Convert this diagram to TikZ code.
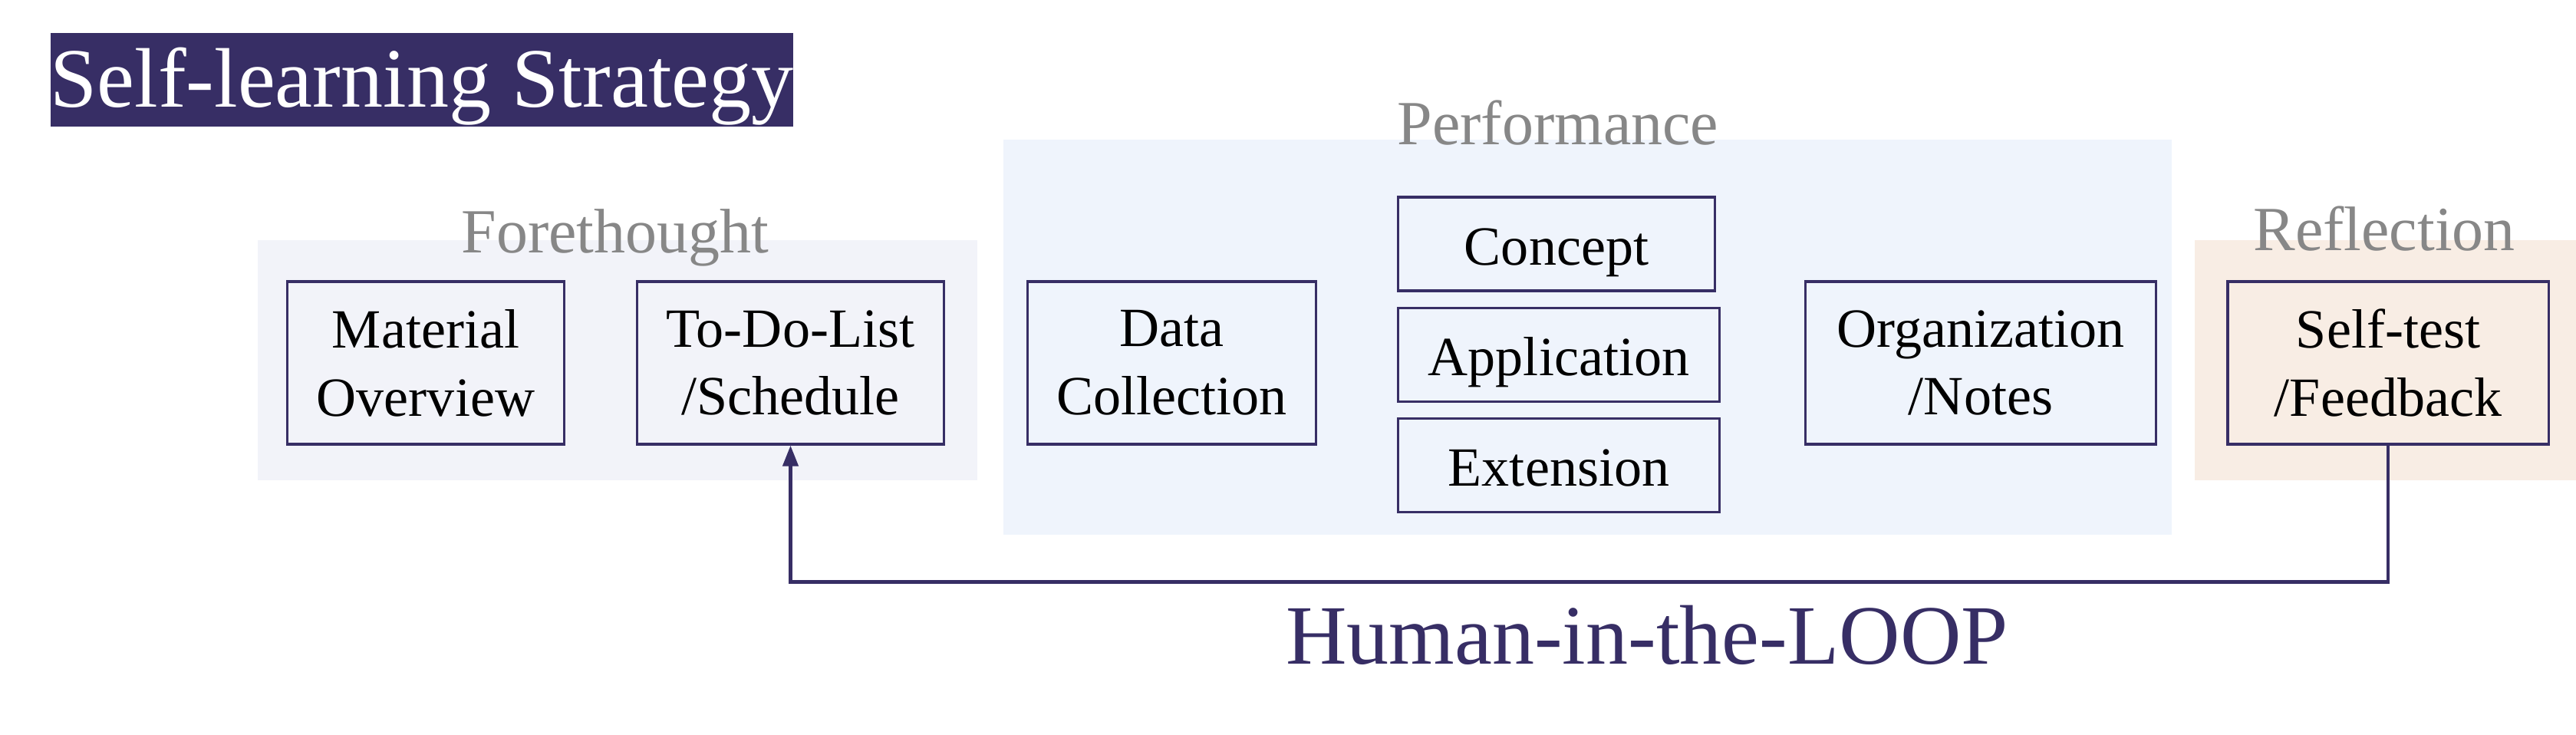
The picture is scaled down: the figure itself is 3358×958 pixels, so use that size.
\documentclass[tikz,border=0pt]{standalone}
\usepackage{fontspec}
\setmainfont{Liberation Serif}
\usetikzlibrary{arrows.meta}
\definecolor{loopviolet}{HTML}{372E65}
\definecolor{forebg}{HTML}{F2F3F9}
\definecolor{perfbg}{HTML}{EFF4FC}
\definecolor{reflbg}{HTML}{F8EDE4}
\definecolor{phasegray}{HTML}{878787}
\begin{document}
\begin{tikzpicture}[x=0.01cm,y=-0.01cm,
  stagebox/.style={draw=loopviolet,line width=0.9pt,align=center,inner sep=0pt,
    font=\fontsize{20.5}{25.3}\selectfont,minimum height=2.12cm},
  subbox/.style={stagebox,minimum height=1.22cm,text height=15.4pt,text depth=0pt},
  phase/.style={text=phasegray,anchor=base,inner sep=0pt,font=\fontsize{23.3}{28}\selectfont}]
\useasboundingbox(0,0)rectangle(3358,958);
% phase backgrounds
\fill[forebg](336,313)rectangle(1274,626);
\fill[perfbg](1308,182)rectangle(2831,697);
\fill[reflbg](2861,313)rectangle(3358,626);
\node[phase](fore)at(802,330){Forethought};
\node[phase](perf)at(2031,189){Performance};
\node[phase](refl)at(3108,327){Reflection};
% title
\node[fill=loopviolet,text=white,anchor=base,inner sep=0pt,minimum width=9.67cm,
  text height=27.6pt,text depth=7.1pt,font=\fontsize{31.3}{38}\selectfont]
  (title)at(550,140){Self-learning Strategy};
% boxes
\node[stagebox,minimum width=3.6cm](mat)at(555,473){Material\\Overview};
\node[stagebox,minimum width=3.99cm](todo)at(1030.5,473){To-Do-List\\/Schedule};
\node[stagebox,minimum width=3.75cm](data)at(1527.5,473){Data\\Collection};
\node[subbox,minimum width=4.12cm](concept)at(2029,318){Concept};
\node[subbox,minimum width=4.18cm](app)at(2032,462.5){Application};
\node[subbox,minimum width=4.18cm](ext)at(2032,606.5){Extension};
\node[stagebox,minimum width=4.56cm](org)at(2582,473){Organization\\/Notes};
\node[stagebox,minimum width=4.18cm](self)at(3113,473){Self-test\\/Feedback};
% loop
\draw[loopviolet,line width=1.3pt,-{Triangle[length=0.27cm,width=0.2cm]}]
  (self.south)--++(0,178)-|(todo.south);
\node[anchor=base,text=loopviolet,inner sep=0pt,font=\fontsize{31.3}{38}\selectfont]
  (hitl)at(2147,865){Human-in-the-LOOP};
\end{tikzpicture}
\end{document}
